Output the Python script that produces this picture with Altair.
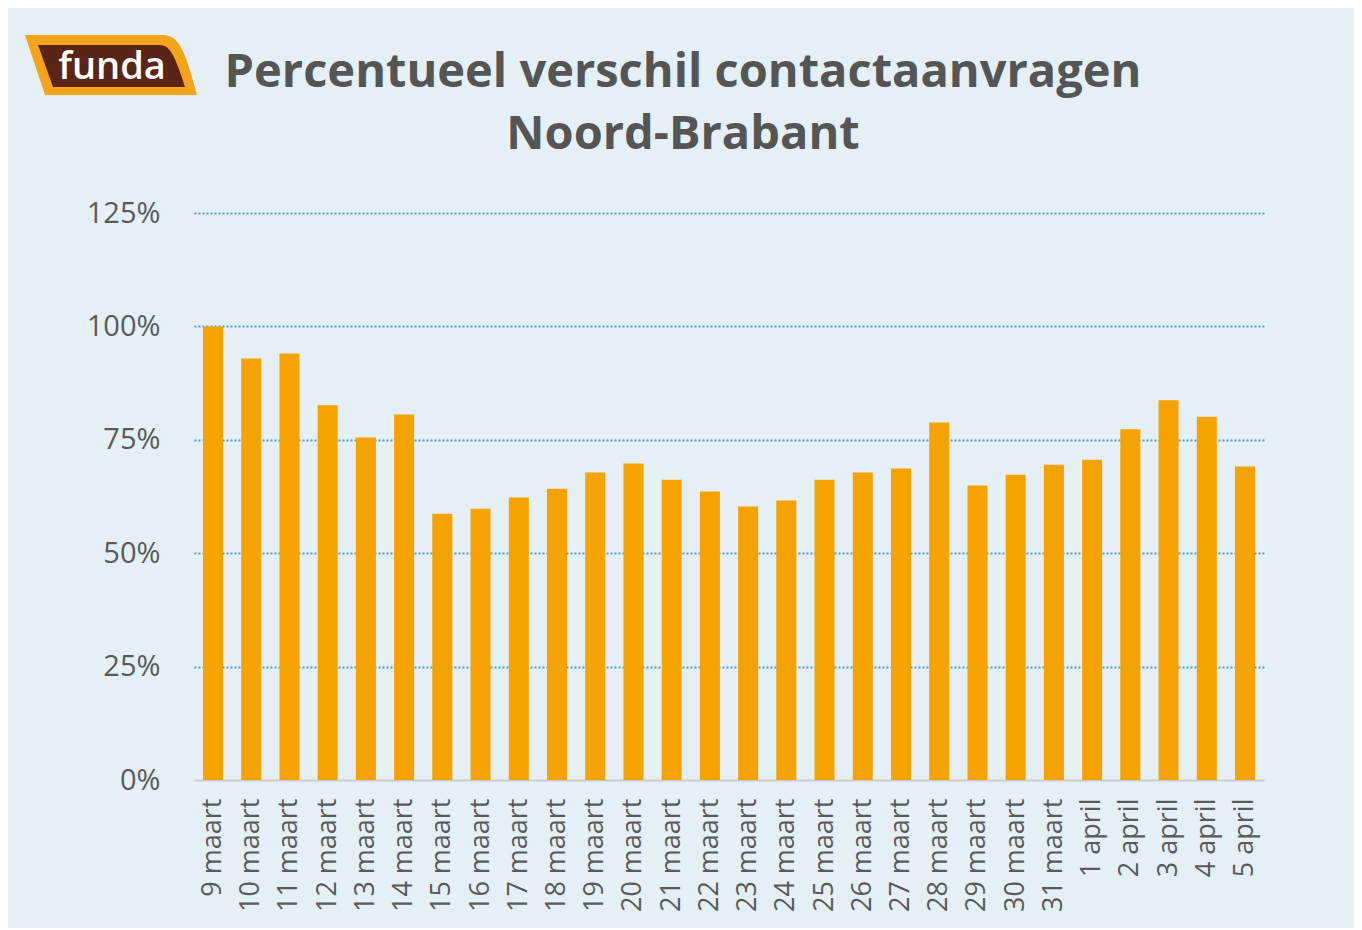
import altair as alt
import pandas as pd

dates = ["9 maart", "10 maart", "11 maart", "12 maart", "13 maart", "14 maart",
         "15 maart", "16 maart", "17 maart", "18 maart", "19 maart", "20 maart",
         "21 maart", "22 maart", "23 maart", "24 maart", "25 maart", "26 maart",
         "27 maart", "28 maart", "29 maart", "30 maart", "31 maart",
         "1 april", "2 april", "3 april", "4 april", "5 april"]
values = [100, 92.9, 94.0, 82.6, 75.5, 80.6, 58.7, 59.8, 62.3, 64.2, 67.8, 69.8,
          66.2, 63.6, 60.3, 61.6, 66.2, 67.8, 68.7, 78.8, 64.9, 67.3, 69.5,
          70.6, 77.3, 83.7, 80.1, 69.1]
y_ticks = [0, 25, 50, 75, 100, 125]
title_line1 = ["Percentueel verschil contactaanvragen"]
title_line2 = ["Noord-Brabant"]
logo_text = ["funda"]

df = pd.DataFrame({"datum": dates, "pct": values})
logo_df = pd.DataFrame({"t": logo_text})
t1_df = pd.DataFrame({"t": title_line1})
t2_df = pd.DataFrame({"t": title_line2})

W, H = 1070, 567

bars = alt.Chart(df).mark_bar(color="#f6a200").encode(
    x=alt.X("datum:N", sort=dates,
            scale=alt.Scale(paddingInner=0.476, paddingOuter=0.235),
            axis=alt.Axis(title=None, labelAngle=-90, labelFontSize=27,
                          labelColor="#5a5a5a", labelPadding=18, ticks=False,
                          domainColor="#cccccc", domainWidth=2,
                          labelFont="Open Sans")),
    y=alt.Y("pct:Q", scale=alt.Scale(domain=[0, 125], nice=False),
            axis=alt.Axis(title=None, values=y_ticks,
                          labelExpr="datum.value + '%'",
                          labelFontSize=29, labelColor="#5a5a5a",
                          labelFont="Open Sans", labelPadding=34,
                          ticks=False, domain=False,
                          grid=True, gridColor="#4f9ad6", gridDash=[2, 2],
                          gridWidth=1.8,
                          gridOpacity={"condition": {"test": "datum.value === 0", "value": 0}, "value": 1})),
    tooltip=["datum", "pct"]
)

logo_outer = alt.Chart(logo_df).mark_point(
    shape="M -86 -30 L 52 -30 C 68 -30 74 -14 86 30 L -66 30 Z",
    filled=True, color="#f5a31a", opacity=1, size=4
).encode(x=alt.value(-83), y=alt.value(-148))

logo_inner = alt.Chart(logo_df).mark_point(
    shape="M -73 -20 L 48 -20 C 60 -20 64 -8 74 22 L -58 22 Z",
    filled=True, color="#5a2417", opacity=1, size=4
).encode(x=alt.value(-83), y=alt.value(-148))

logo_word = alt.Chart(logo_df).mark_text(
    font="Open Sans", fontSize=38, fontWeight=600, color="white",
    align="center", baseline="alphabetic"
).encode(x=alt.value(-82), y=alt.value(-134), text="t:N")

title_style = dict(font="Open Sans", fontSize=47, fontWeight="bold",
                   color="#555555", align="center", baseline="alphabetic")
title1 = alt.Chart(t1_df).mark_text(**title_style).encode(
    x=alt.value(489), y=alt.value(-126), text="t:N")
title2 = alt.Chart(t2_df).mark_text(**title_style).encode(
    x=alt.value(489), y=alt.value(-64), text="t:N")

chart = alt.layer(bars, logo_outer, logo_inner, logo_word, title1, title2).properties(
    width=W, height=H,
    autosize=alt.AutoSizeParams(type="none"),
    padding={"left": 186, "top": 205, "right": 90, "bottom": 148},
    background="#e4f0f6",
).configure_view(strokeOpacity=0)

chart.save("out.html", embed_options={"renderer": "svg", "actions": False})
